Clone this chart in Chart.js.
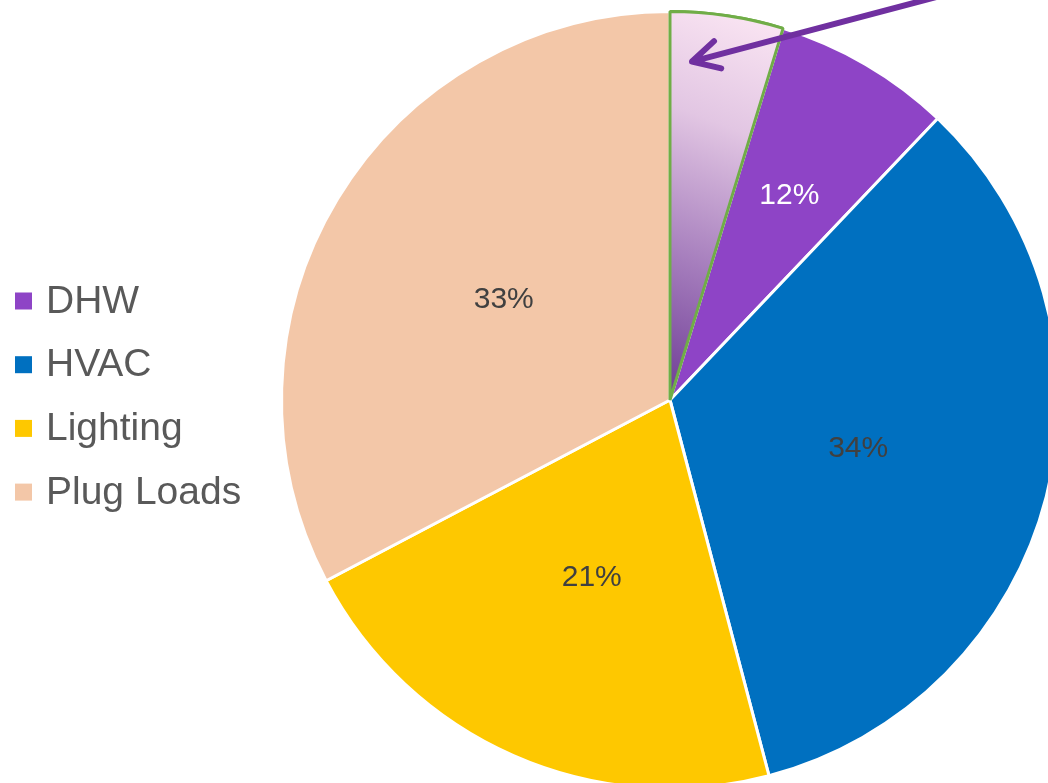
<!DOCTYPE html>
<html>
<head>
<meta charset="utf-8">
<script src="https://cdn.jsdelivr.net/npm/chart.js@4.4.1/dist/chart.umd.min.js"></script>
<style>
  html, body { margin: 0; padding: 0; background: #fff; }
  #wrap { width: 1048px; height: 783px; overflow: hidden; position: relative; }
  canvas { position: absolute; left: 0; top: 0; }
</style>
</head>
<body>
<div id="wrap"><canvas id="pie" width="1120" height="800"></canvas></div>
<script>
const categories = ['DHW', 'HVAC', 'Lighting', 'Plug Loads'];
const shares = [12.1, 33.8, 21.4, 32.7];
// part of the DHW slice that is pulled out and pointed at
const dhwHighlight = 4.7;

const sliceColors = ['#8e44c6', '#0070c0', '#fec800', '#f3c7a8'];
const labelColors = ['#ffffff', '#404040', '#404040', '#404040'];

// segment 0 is the highlighted piece of DHW, then the four categories
const values = [dhwHighlight, shares[0] - dhwHighlight, shares[1], shares[2], shares[3]];

function highlightFill(ctx) {
  const ca = ctx.chart.chartArea;
  if (!ca) return '#e0c8e6';
  const cx = (ca.left + ca.right) / 2, cy = (ca.top + ca.bottom) / 2;
  const r = Math.min(ca.width, ca.height) / 2;
  const g = ctx.chart.ctx.createLinearGradient(cx - 0.02 * r, cy, cx + 0.35 * r, cy - 0.95 * r);
  g.addColorStop(0, '#6c3a94');
  g.addColorStop(0.35, '#a67ebd');
  g.addColorStop(0.7, '#e2c6e3');
  g.addColorStop(1, '#fbe6f3');
  return g;
}

const overlay = {
  id: 'overlay',
  afterDatasetsDraw(chart) {
    const ctx = chart.ctx;
    const arcs = chart.getDatasetMeta(0).data;

    // redraw highlight so its green edge sits on top
    arcs[0].draw(ctx);

    // percentage labels
    ctx.save();
    ctx.font = '30px "Liberation Sans", Arial, sans-serif';
    ctx.textAlign = 'center';
    ctx.textBaseline = 'middle';
    categories.forEach((c, i) => {
      const a = arcs[i + 1];
      const p = a.getProps(['x', 'y', 'startAngle', 'endAngle', 'outerRadius'], true);
      const mid = (p.startAngle + p.endAngle) / 2;
      const rr = p.outerRadius * (i === 0 ? 0.61 : 0.5);
      ctx.fillStyle = labelColors[i];
      ctx.fillText(Math.round(shares[i]) + '%', p.x + Math.cos(mid) * rr, p.y + Math.sin(mid) * rr);
    });
    ctx.restore();

    // arrow pointing at highlighted piece
    const h = arcs[0].getProps(['x', 'y', 'startAngle', 'endAngle', 'outerRadius'], true);
    const ta = h.startAngle + 0.22 * (h.endAngle - h.startAngle);
    const tip = [h.x + Math.cos(ta) * h.outerRadius * 0.873, h.y + Math.sin(ta) * h.outerRadius * 0.873];
    const dir = -14.8 * Math.PI / 180;
    const tail = [tip[0] + Math.cos(dir) * 320, tip[1] + Math.sin(dir) * 320];
    ctx.save();
    ctx.strokeStyle = '#7030a0';
    ctx.lineWidth = 6;
    ctx.lineCap = 'round';
    ctx.lineJoin = 'round';
    ctx.beginPath();
    ctx.moveTo(tail[0], tail[1]);
    ctx.lineTo(tip[0], tip[1]);
    const hl = 30, sp = 28 * Math.PI / 180;
    ctx.moveTo(tip[0] + Math.cos(dir + sp) * hl, tip[1] + Math.sin(dir + sp) * hl);
    ctx.lineTo(tip[0], tip[1]);
    ctx.lineTo(tip[0] + Math.cos(dir - sp) * hl, tip[1] + Math.sin(dir - sp) * hl);
    ctx.stroke();
    ctx.restore();

    // legend
    ctx.save();
    ctx.font = '39px "Liberation Sans", Arial, sans-serif';
    ctx.textBaseline = 'middle';
    ctx.textAlign = 'left';
    categories.forEach((c, i) => {
      const y = 301 + i * 63.7;
      ctx.fillStyle = sliceColors[i];
      ctx.fillRect(15, y - 8.5, 17, 17);
      ctx.fillStyle = '#595959';
      ctx.fillText(c, 46, y + 1);
    });
    ctx.restore();
  }
};

new Chart(document.getElementById('pie'), {
  type: 'pie',
  data: {
    labels: ['DHW (highlight)'].concat(categories),
    datasets: [{
      data: values,
      backgroundColor: ctx => ctx.dataIndex === 0 ? highlightFill(ctx) : sliceColors[ctx.dataIndex - 1],
      borderColor: ['#70ad47', '#ffffff', '#ffffff', '#ffffff', '#ffffff'],
      borderWidth: 3
    }]
  },
  options: {
    responsive: false,
    animation: false,
    devicePixelRatio: 1,
    layout: { padding: { left: 220, top: 10, bottom: 10, right: 0 } },
    plugins: {
      legend: { display: false },
      tooltip: { enabled: false }
    }
  },
  plugins: [overlay]
});
</script>
</body>
</html>
